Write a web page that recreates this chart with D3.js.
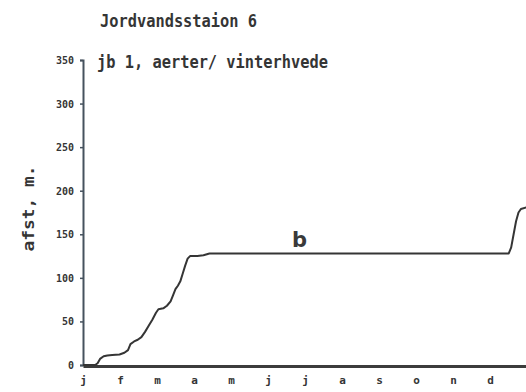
<!DOCTYPE html>
<html>
<head>
<meta charset="utf-8">
<script src="https://cdn.jsdelivr.net/npm/d3@7"></script>
<style>
  html, body { margin: 0; padding: 0; background: #ffffff; }
  svg { display: block; }
</style>
</head>
<body>
<svg id="chart" width="526" height="392"></svg>
<script>
// Month labels along the time axis (one per month start)
const months = ["j", "f", "m", "a", "m", "j", "j", "a", "s", "o", "n", "d"];
// Tick values on the distance axis
const yTicks = [0, 50, 100, 150, 200, 250, 300, 350];
// Accumulated curve "b": day of year and value
const days = [0, 10, 12, 14, 17, 20, 24, 30, 34, 37, 39, 42, 45, 48, 51, 54, 57, 60, 62, 66, 69, 72, 74, 76, 78, 80, 82, 84, 86, 88, 94, 99, 104, 200, 300, 350, 352, 354, 356, 358, 360, 365];
const values = [0, 0, 2, 7, 10, 11, 11.5, 12, 14, 17, 24, 27, 29, 32, 38, 45, 52, 60, 64, 65, 68, 73, 80, 87, 91, 96, 105, 114, 122, 125, 125, 126, 128, 128, 128, 128, 135, 150, 165, 175, 179, 181];

const title = "Jordvandsstaion 6";
const subtitle = "jb 1, aerter/ vinterhvede";
const yLabel = "afst, m.";
const seriesLabel = "b";

const ink = "#353535";
const axisInk = "#46525e";
const mono = "'DejaVu Sans Mono', 'Liberation Mono', monospace";

const svg = d3.select("#chart");

const x = d3.scaleLinear().domain([0, 365]).range([83, 527]);
const y = d3.scaleLinear().domain([0, 350]).range([365, 60]);

// Title lines
svg.append("text")
  .attr("x", 100).attr("y", 27)
  .attr("textLength", 157).attr("lengthAdjust", "spacingAndGlyphs")
  .attr("font-family", mono).attr("font-size", 18).attr("font-weight", "bold")
  .attr("fill", ink)
  .text(title);

svg.append("text")
  .attr("x", 97).attr("y", 68)
  .attr("textLength", 231).attr("lengthAdjust", "spacingAndGlyphs")
  .attr("font-family", mono).attr("font-size", 18).attr("font-weight", "bold")
  .attr("fill", ink)
  .text(subtitle);

// Y axis
const yAxis = svg.append("g")
  .attr("transform", `translate(${x(0)},0)`)
  .call(d3.axisLeft(y).tickValues(yTicks).tickSize(3).tickPadding(6).tickFormat(d3.format("d")));
yAxis.select(".domain").attr("stroke", axisInk).attr("stroke-width", 2);
yAxis.selectAll(".tick line").attr("stroke", axisInk).attr("stroke-width", 1.5);
yAxis.selectAll(".tick text")
  .attr("fill", ink)
  .attr("font-family", mono).attr("font-size", 11).attr("font-weight", "bold")
  .each(function(d) {
    const s = String(d);
    d3.select(this).attr("textLength", s.length * 6).attr("lengthAdjust", "spacingAndGlyphs");
  });

// Y axis title
svg.append("text")
  .attr("transform", `translate(34,${(165 + 252) / 2}) rotate(-90)`)
  .attr("text-anchor", "middle")
  .attr("textLength", 86).attr("lengthAdjust", "spacingAndGlyphs")
  .attr("font-family", mono).attr("font-size", 16).attr("font-weight", "bold")
  .attr("fill", ink)
  .text(yLabel);

// X axis: month starts
const monthStarts = months.map((m, i) => i * 365 / 12);
const xAxis = svg.append("g")
  .attr("transform", `translate(0,${y(0) + 1})`)
  .call(d3.axisBottom(x).tickValues(monthStarts).tickSize(0).tickPadding(10)
    .tickFormat((d, i) => months[i]));
xAxis.select(".domain").attr("stroke", "#3c3c3c").attr("stroke-width", 3);
xAxis.selectAll(".tick text")
  .attr("fill", ink)
  .attr("font-family", mono).attr("font-size", 11).attr("font-weight", "bold");

// Curve b
const pts = days.map((d, i) => [d, values[i]]);
const line = d3.line().x(d => x(d[0])).y(d => y(d[1]));
svg.append("path")
  .datum(pts)
  .attr("fill", "none")
  .attr("stroke", ink)
  .attr("stroke-width", 2)
  .attr("stroke-linejoin", "round")
  .attr("d", line);

// Series label
svg.append("text")
  .attr("x", x(178)).attr("y", 247)
  .attr("text-anchor", "middle")
  .attr("font-family", "'DejaVu Sans', sans-serif").attr("font-size", 21).attr("font-weight", "bold")
  .attr("fill", "#3a3a3a")
  .text(seriesLabel);
</script>
</body>
</html>
